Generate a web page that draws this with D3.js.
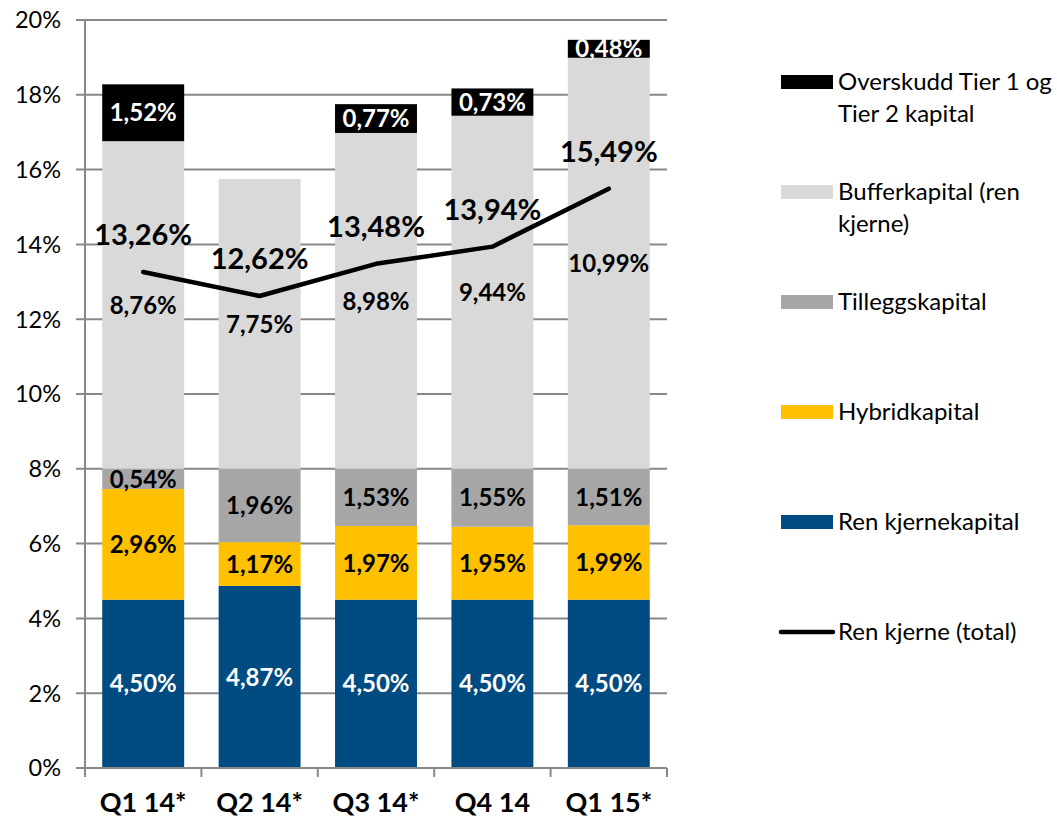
<!DOCTYPE html>
<html>
<head>
<meta charset="utf-8">
<script src="https://cdn.jsdelivr.net/npm/d3@7"></script>
<style>
  html, body { margin: 0; padding: 0; background: #fff; }
  svg { display: block; font-family: Lato, "Open Sans", sans-serif; }
</style>
</head>
<body>
<svg id="chart" width="1057" height="817"></svg>
<script>
// Categories (quarters)
const categories = ['Q1 14*', 'Q2 14*', 'Q3 14*', 'Q4 14', 'Q1 15*'];

// Stacked series, bottom to top (percent)
const renKjernekapital = [4.50, 4.87, 4.50, 4.50, 4.50];
const hybridkapital = [2.96, 1.17, 1.97, 1.95, 1.99];
const tilleggskapital = [0.54, 1.96, 1.53, 1.55, 1.51];
const bufferkapital = [8.76, 7.75, 8.98, 9.44, 10.99];
const overskudd = [1.52, 0, 0.77, 0.73, 0.48];

// Line series
const renKjerneTotal = [13.26, 12.62, 13.48, 13.94, 15.49];

// Y axis ticks
const yTicks = [0, 2, 4, 6, 8, 10, 12, 14, 16, 18, 20];

const seriesDefs = [
  { key: 'ren', name: ['Ren kjernekapital'], values: renKjernekapital, color: '#004B81', text: '#fff' },
  { key: 'hyb', name: ['Hybridkapital'], values: hybridkapital, color: '#FFC000', text: '#000' },
  { key: 'til', name: ['Tilleggskapital'], values: tilleggskapital, color: '#A6A6A6', text: '#000' },
  { key: 'buf', name: ['Bufferkapital (ren', 'kjerne)'], values: bufferkapital, color: '#D9D9D9', text: '#000' },
  { key: 'ovr', name: ['Overskudd Tier 1 og', 'Tier 2 kapital'], values: overskudd, color: '#000000', text: '#fff' }
];

const fmt = v => v.toFixed(2).replace('.', ',') + '%';

const svg = d3.select('#chart');
const plot = { left: 85, right: 667, top: 20, bottom: 768 };

const x = d3.scaleBand()
  .domain(categories)
  .range([plot.left, plot.right])
  .paddingInner(0.296)
  .paddingOuter(0.148);

const y = d3.scaleLinear().domain([0, 20]).range([plot.bottom, plot.top]);

const gridColor = '#888888';

// Gridlines + y tick marks
svg.append('g')
  .selectAll('line')
  .data(yTicks.filter(d => d > 0))
  .enter()
  .append('line')
  .attr('x1', plot.left - 9)
  .attr('x2', plot.right)
  .attr('y1', d => y(d))
  .attr('y2', d => y(d))
  .attr('stroke', gridColor)
  .attr('stroke-width', 2);

// Y tick labels
svg.append('g')
  .selectAll('text')
  .data(yTicks)
  .enter()
  .append('text')
  .attr('x', 61)
  .attr('y', d => y(d))
  .attr('dy', '0.36em')
  .attr('text-anchor', 'end')
  .style('font-size', '23.5px')
  .style('fill', '#000')
  .text(d => d + '%');

// Stacked bars
const table = categories.map((c, i) => {
  const row = { cat: c };
  seriesDefs.forEach(s => { row[s.key] = s.values[i]; });
  return row;
});

const stack = d3.stack().keys(seriesDefs.map(s => s.key));
const layers = stack(table);

const layerGroups = svg.append('g')
  .selectAll('g')
  .data(layers)
  .enter()
  .append('g')
  .attr('fill', (d, i) => seriesDefs[i].color);

layerGroups.selectAll('rect')
  .data(d => d.filter(p => p[1] - p[0] > 0))
  .enter()
  .append('rect')
  .attr('x', d => x(d.data.cat))
  .attr('width', x.bandwidth())
  .attr('y', d => y(d[1]))
  .attr('height', d => y(d[0]) - y(d[1]));

// Axes lines (drawn above bars)
svg.append('line')
  .attr('x1', plot.left).attr('x2', plot.left)
  .attr('y1', plot.top).attr('y2', plot.bottom + 9)
  .attr('stroke', gridColor).attr('stroke-width', 2);

svg.append('line')
  .attr('x1', plot.left - 9).attr('x2', plot.right)
  .attr('y1', plot.bottom).attr('y2', plot.bottom)
  .attr('stroke', gridColor).attr('stroke-width', 2);

// X tick marks at category boundaries
const boundaries = categories.map(c => x(c) - x.step() * x.paddingOuter())
  .concat([plot.right]);
svg.append('g')
  .selectAll('line')
  .data(boundaries)
  .enter()
  .append('line')
  .attr('x1', d => d).attr('x2', d => d)
  .attr('y1', plot.bottom).attr('y2', plot.bottom + 9)
  .attr('stroke', gridColor).attr('stroke-width', 2);

// X labels
svg.append('g')
  .selectAll('text')
  .data(categories)
  .enter()
  .append('text')
  .attr('x', d => x(d) + x.bandwidth() / 2)
  .attr('y', 812)
  .attr('text-anchor', 'middle')
  .style('font-size', '27px')
  .style('font-weight', 'bold')
  .text(d => d);

// Segment labels
layerGroups.each(function(layer, li) {
  d3.select(this).selectAll('text')
    .data(layer.filter(p => p[1] - p[0] > 0))
    .enter()
    .append('text')
    .attr('x', d => x(d.data.cat) + x.bandwidth() / 2)
    .attr('y', d => y((d[0] + d[1]) / 2))
    .attr('dy', '0.36em')
    .attr('text-anchor', 'middle')
    .style('font-size', '24px')
    .style('font-weight', 'bold')
    .style('fill', seriesDefs[li].text)
    .text(d => fmt(d[1] - d[0]));
});

// Line series
const line = d3.line()
  .x((d, i) => x(categories[i]) + x.bandwidth() / 2)
  .y(d => y(d));

svg.append('path')
  .datum(renKjerneTotal)
  .attr('d', line)
  .attr('fill', 'none')
  .attr('stroke', '#000')
  .attr('stroke-width', 4.5)
  .attr('stroke-linejoin', 'round')
  .attr('stroke-linecap', 'round');

svg.append('g')
  .selectAll('text')
  .data(renKjerneTotal)
  .enter()
  .append('text')
  .attr('x', (d, i) => x(categories[i]) + x.bandwidth() / 2)
  .attr('y', d => y(d) - 27)
  .attr('text-anchor', 'middle')
  .style('font-size', '29px')
  .style('font-weight', 'bold')
  .text(d => fmt(d));

// Legend
const legendItems = seriesDefs.slice().reverse().map(s => ({ name: s.name, color: s.color, type: 'rect' }))
  .concat([{ name: ['Ren kjerne (total)'], color: '#000', type: 'line' }]);

const legend = svg.append('g').attr('transform', 'translate(781,82)');
const items = legend.selectAll('g')
  .data(legendItems)
  .enter()
  .append('g')
  .attr('transform', (d, i) => `translate(0,${i * 110})`);

items.filter(d => d.type === 'rect')
  .append('rect')
  .attr('x', 0).attr('y', -7)
  .attr('width', 52).attr('height', 14)
  .attr('fill', d => d.color);

items.filter(d => d.type === 'line')
  .append('line')
  .attr('x1', 0).attr('x2', 52)
  .attr('y1', 0).attr('y2', 0)
  .attr('stroke', d => d.color)
  .attr('stroke-width', 4.5)
  .attr('stroke-linecap', 'round');

items.append('text')
  .attr('x', 57)
  .attr('y', 8)
  .style('font-size', '24px')
  .selectAll('tspan')
  .data(d => d.name)
  .enter()
  .append('tspan')
  .attr('x', 57)
  .attr('dy', (d, i) => i === 0 ? 0 : 32)
  .text(d => d);
</script>
</body>
</html>
